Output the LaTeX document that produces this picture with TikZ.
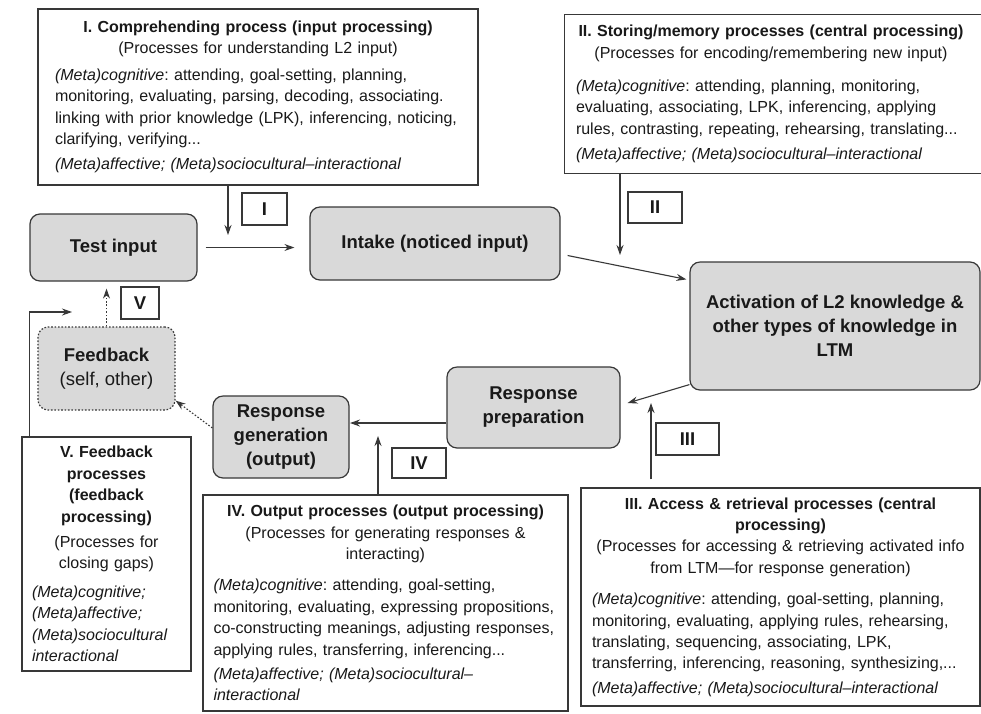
\documentclass[tikz,border=0pt]{standalone}
\usepackage{fontspec}
\setmainfont{Liberation Sans}
\usetikzlibrary{arrows.meta}
\definecolor{boxgray}{gray}{0.85}
\definecolor{linegray}{gray}{0.22}
\definecolor{ink}{gray}{0.1}
\newcommand{\boxhead}[2]{{\centering\bfseries #1\par}{\centering #2\par}}
\newcommand{\gap}[1]{\par\vspace{#1}}
\frenchspacing
\hyphenpenalty=10000
\exhyphenpenalty=10000

\begin{document}
\begin{tikzpicture}[x=1pt,y=-1pt,font=\fontsize{16}{21.4}\selectfont,text=ink,
procbox/.style={draw=linegray,line width=1.2pt,fill=white,align=left,inner ysep=0pt},
stagebox/.style={draw=linegray,line width=1.2pt,fill=boxgray,rounded corners=10pt,align=center,font=\fontsize{18.5}{24}\selectfont\bfseries},
tagbox/.style={draw=linegray,line width=1.2pt,fill=white,inner sep=0pt,font=\fontsize{18.5}{20}\selectfont\bfseries},
arr/.style={draw=linegray,line width=1.1pt,-{Stealth[length=10pt,width=7pt]}},
dotarr/.style={arr,dash pattern=on 1.6pt off 1.8pt}]
\path[use as bounding box] (0,0) rectangle (981,713);
\clip (0,0) rectangle (981,713);
\fill[white] (0,0) rectangle (981,713);

% process boxes
\node[procbox,text width=406pt,inner xsep=17pt,minimum height=176pt] (boxI) at (258,97) {\boxhead{I. Comprehending process (input processing)}{(Processes for understanding L2 input)}\gap{5pt}
\textit{(Meta)cognitive}: attending, goal-setting, planning,\\
monitoring, evaluating, parsing, decoding, associating.\\
linking with prior knowledge (LPK), inferencing, noticing,\\
clarifying, verifying...\gap{4pt}
\textit{(Meta)affective; (Meta)sociocultural--interactional}};

\node[procbox,draw=none,fill=none,text width=390pt,inner xsep=11pt,minimum height=158pt] (boxII) at (771,94) {\boxhead{II. Storing/memory processes (central processing)}{(Processes for encoding/remembering new input)}\gap{12pt}
\textit{(Meta)cognitive}: attending, planning, monitoring,\\
evaluating, associating, LPK, inferencing, applying\\
rules, contrasting, repeating, rehearsing, translating...\gap{4pt}
\textit{(Meta)affective; (Meta)sociocultural--interactional}};
\draw[linegray,line width=1.2pt] ([xshift=30pt]boxII.north east) -- (boxII.north west) -- (boxII.south west) -- ([xshift=30pt]boxII.south east);

\node[procbox,text width=377pt,inner xsep=11pt,minimum height=218pt] (boxIII) at (780.5,597) {\boxhead{III. Access \& retrieval processes (central\\ processing)}{(Processes for accessing \& retrieving activated info\\ from LTM---for response generation)}\gap{10pt}
\textit{(Meta)cognitive}: attending, goal-setting, planning,\\
monitoring, evaluating, applying rules, rehearsing,\\
translating, sequencing, associating, LPK,\\
transferring, inferencing, reasoning, synthesizing,...\gap{3pt}
\textit{(Meta)affective; (Meta)sociocultural--interactional}};

\node[procbox,text width=344pt,inner xsep=10.5pt,minimum height=216pt] (boxIV) at (385.5,603) {\boxhead{IV. Output processes (output processing)}{(Processes for generating responses \&\\ interacting)}\gap{10pt}
\textit{(Meta)cognitive}: attending, goal-setting,\\
monitoring, evaluating, expressing propositions,\\
co-constructing meanings, adjusting responses,\\
applying rules, transferring, inferencing...\gap{3pt}
\textit{(Meta)affective; (Meta)sociocultural--\\ interactional}};

\node[procbox,text width=149pt,inner xsep=10pt,minimum height=234pt] (boxV) at (106.5,554) {\boxhead{V. Feedback\\ processes\\ (feedback\\ processing)}{\gap{4pt}(Processes for\\ closing gaps)}\gap{7pt}
\textit{(Meta)cognitive;\\ (Meta)affective;\\ (Meta)sociocultural\\ interactional}};

% stage boxes
\node[stagebox,minimum width=167pt,minimum height=67pt] (test) at (113.5,247.5) {Test input};
\node[stagebox,minimum width=250pt,minimum height=73pt] (intake) at (435,243.5) {Intake (noticed input)};
\node[stagebox,minimum width=290pt,minimum height=128pt] (act) at (835,326) {Activation of L2 knowledge \&\\ other types of knowledge in\\ LTM};
\node[stagebox,minimum width=173pt,minimum height=81pt] (prep) at (533.5,407.5) {Response\\ preparation};
\node[stagebox,minimum width=136pt,minimum height=82pt] (gen) at (281,437) {Response\\ generation\\ (output)};
\node[stagebox,dash pattern=on 1.6pt off 1.8pt,minimum width=137pt,minimum height=83pt] (fb) at (106.5,368.5) {Feedback\\ {\mdseries (self, other)}};

% tags
\node[tagbox,minimum width=45pt,minimum height=32pt] (tagI) at (264.5,209) {I};
\node[tagbox,minimum width=54pt,minimum height=31pt] (tagII) at (655,207.5) {II};
\node[tagbox,minimum width=63pt,minimum height=32pt] (tagIII) at (687.5,439) {III};
\node[tagbox,minimum width=54pt,minimum height=30pt] (tagIV) at (419,463) {IV};
\node[tagbox,minimum width=38pt,minimum height=32pt] (tagV) at (140,303) {V};

% arrows
\coordinate (tipI) at (228,235);
\coordinate (tipII) at (620,255);
\coordinate (tipIII) at (651,403);
\coordinate (tipIV) at (378,436);
\coordinate (tipV) at (72,312);
\coordinate (tipPG) at (350,423);
\draw[arr] (boxI.south -| tipI) -- (tipI);
\draw[arr] (boxII.south -| tipII) -- (tipII);
\draw[arr] ([yshift=8pt]boxIII.north -| tipIII) -- (tipIII);
\draw[arr] (boxIV.north -| tipIV) -- (tipIV);
\draw[arr] ([xshift=8pt]boxV.north west) |- (tipV);
\draw[arr] ([xshift=8pt]test.east) -- ([xshift=-15pt]test.east -| intake.west);
\draw[arr] ([shift={(7,12)}]intake.east) -- ([shift={(-3,18)}]act.north west);
\draw[arr] ([yshift=6pt]act.south west) -- ([shift={(7,-4.5)}]prep.east);
\draw[arr] (prep.west |- tipPG) -- (tipPG);
\draw[dotarr] ([yshift=9pt]gen.west) -- ([yshift=10pt]fb.south east);
\draw[dotarr] (fb.north) -- ([yshift=-7pt]fb.north |- test.south);
\end{tikzpicture}
\end{document}
